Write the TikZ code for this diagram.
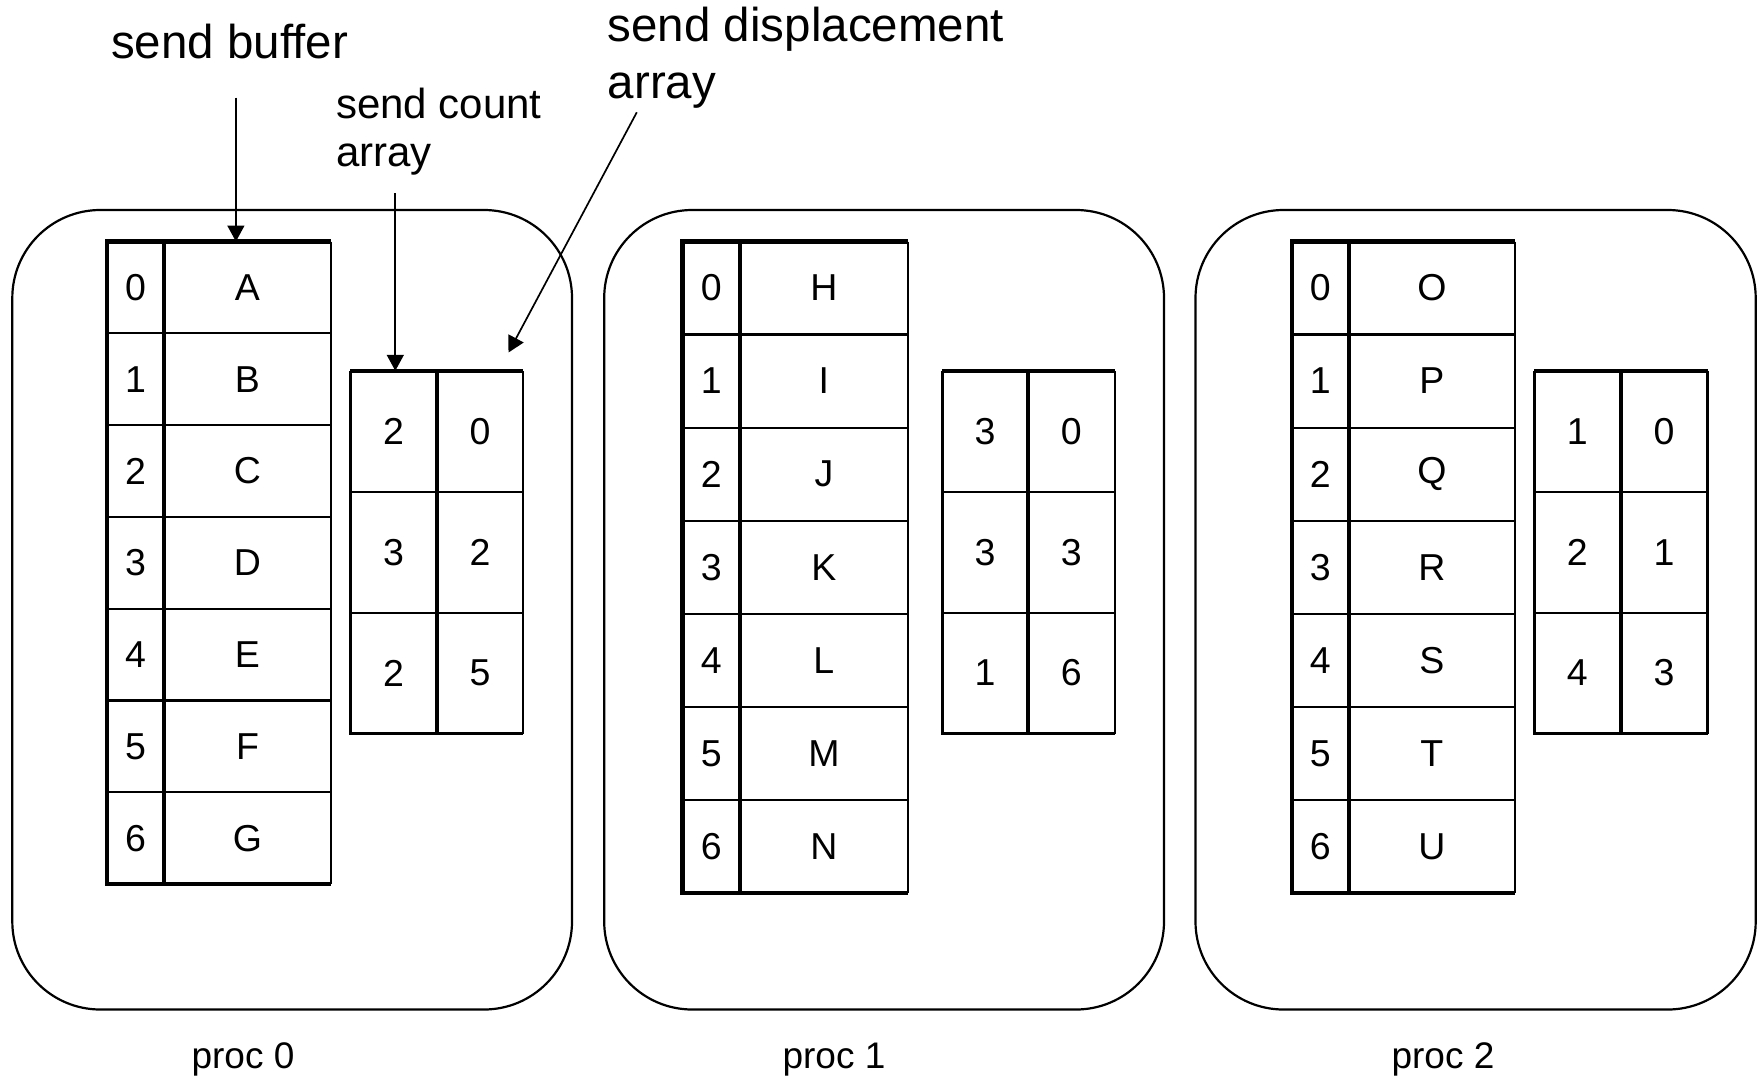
\documentclass[tikz,border=0pt]{standalone}
\usepackage{fontspec}
\setmainfont{Liberation Sans}
\usetikzlibrary{arrows.meta}
\tikzset{
  procbox/.style={draw, line width=2.2pt, rounded corners=88pt, inner sep=0pt, outer sep=0pt, anchor=north west},
  gridthin/.style={line width=2.2pt},
  gridthick/.style={line width=4.2pt},
  tablebox/.style={inner sep=0pt, outer sep=0pt, anchor=north west},
  celltext/.style={font=\fontsize{37.5}{43}\selectfont, inner sep=0pt},
  biglabel/.style={font=\fontsize{47.5}{57}\selectfont, inner sep=0pt, align=left, anchor=base west},
  smalllabel/.style={font=\fontsize{42}{48}\selectfont, inner sep=0pt, align=left, anchor=base west},
  proclabel/.style={font=\fontsize{37}{43}\selectfont, inner sep=0pt, anchor=base},
  pointer/.style={line width=1.7pt, -{Triangle[width=17pt,length=16pt]}}
}
% #1 name, #2 x0, #3 xdiv, #4 x1, #5 ytop, #6 row height, #7 letters
\newcommand\buftable[7]{%
  \pgfmathsetmacro\ybot{#5+7*#6}%
  \node[tablebox, minimum width={(#4-#2)*1pt}, minimum height={7*#6*1pt}] (#1) at (#2,#5) {};
  \foreach \k in {1,...,6} {\draw[gridthin] (#2,{#5+\k*#6}) -- (#4,{#5+\k*#6});}
  \draw[gridthin] (#4,#5) -- (#4,\ybot);
  \draw[gridthick] (#4,#5) -- (#2,#5) -- (#2,\ybot) -- (#4,\ybot);
  \draw[gridthick] (#3,#5) -- (#3,\ybot);
  \foreach \L [count=\i from 0] in {#7} {
    \node[celltext] (#1i\i) at ({(#2+#3)/2},{#5+(\i+0.5)*#6}) {\i};
    \node[celltext] (#1v\i) at ({(#3+#4)/2},{#5+(\i+0.5)*#6}) {\L};
  }
}
% #1 name, #2 x0, #3 xdiv, #4 x1, #5 pairs count/displ
\newcommand\cnttable[5]{%
  \def\yt{370.8}\def\rh{120.9}%
  \pgfmathsetmacro\ybot{\yt+3*\rh}%
  \node[tablebox, minimum width={(#4-#2)*1pt}, minimum height={3*\rh*1pt}] (#1) at (#2,\yt) {};
  \foreach \k in {1,2} {\draw[gridthin] (#2,{\yt+\k*\rh}) -- (#4,{\yt+\k*\rh});}
  \draw[gridthin] (#4,\yt) -- (#4,\ybot);
  \draw[line width=3.2pt] (#4,\ybot) -- (#2,\ybot) -- (#2,\yt);
  \draw[gridthick] (#4,\yt) -- (#2,\yt);
  \draw[gridthick] (#3,\yt) -- (#3,\ybot);
  \foreach \c/\d [count=\i from 0] in {#5} {
    \node[celltext] (#1c\i) at ({(#2+#3)/2},{\yt+(\i+0.5)*\rh}) {\c};
    \node[celltext] (#1d\i) at ({(#3+#4)/2},{\yt+(\i+0.5)*\rh}) {\d};
  }
}
\begin{document}
\begin{tikzpicture}[x=1pt,y=-1pt]
\useasboundingbox (0,0) rectangle (1761,1079);
% process boxes
\node[procbox, minimum width=559.7pt, minimum height=799.5pt] (proc0) at (12.3,210) {};
\node[procbox, minimum width=559.8pt, minimum height=799.5pt] (proc1) at (604.2,210) {};
\node[procbox, minimum width=560.2pt, minimum height=799.5pt] (proc2) at (1195.5,210) {};
% send buffers
\buftable{buf0}{107}{164}{331}{241.5}{91.8}{A,B,C,D,E,F,G}
\buftable{buf1}{682.5}{740}{907.8}{241.5}{93.06}{H,I,J,K,L,M,N}
\buftable{buf2}{1292}{1348.8}{1515}{241.5}{93.06}{O,P,Q,R,S,T,U}
% count / displacement arrays
\cnttable{cnt0}{350.4}{436.9}{523}{2/0,3/2,2/5}
\cnttable{cnt1}{942.3}{1027.6}{1115.2}{3/0,3/3,1/6}
\cnttable{cnt2}{1534.2}{1620.6}{1707.5}{1/0,2/1,4/3}
% labels (base anchor = baseline of the last line)
\node[biglabel] (lbuf) at (111,58.4) {send buffer};
\node[smalllabel] (lcnt) at (335.8,166) {send count\\array};
\node[biglabel] (ldsp) at (607.6,98.8) {send displacement\\array};
\node[proclabel] (lp0) at (243,1068) {proc 0};
\node[proclabel] (lp1) at (834,1068) {proc 1};
\node[proclabel] (lp2) at (1443,1068) {proc 2};
% pointers
\coordinate (sbtop) at (235.9,97.7);
\coordinate (sctop) at (395.3,193.2);
\coordinate (sdtop) at (636.8,112.3);
\coordinate (sdtip) at (508.5,352.5);
\draw[pointer] (sbtop) -- (sbtop |- buf0.north);
\draw[pointer] (sctop) -- (sctop |- cnt0.north);
\draw[pointer] (sdtop) -- (sdtip);
\end{tikzpicture}
\end{document}
